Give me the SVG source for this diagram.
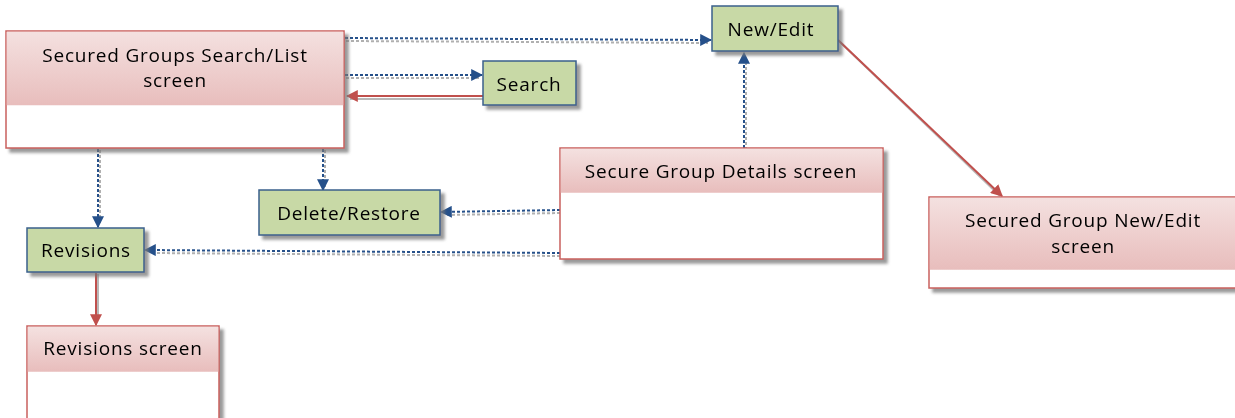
<svg xmlns="http://www.w3.org/2000/svg" width="1235" height="418" viewBox="0 0 1235 418">
<style>
.screen{fill:#fff;stroke:#c9605d;stroke-width:1.5}
.hdr{fill:url(#pink)}
.act{fill:#c8d9a6;stroke:#3a5f8c;stroke-width:1.5}
text{font-family:"Open Sans","Noto Sans","DejaVu Sans",sans-serif;font-size:19px;fill:#000;text-anchor:middle;letter-spacing:0.8px}
.dash{fill:none;stroke:#25508a;stroke-width:2;stroke-dasharray:3 2}
.dsh{fill:none;stroke:#b0b0b0;stroke-width:2;stroke-dasharray:3 2}
.red{fill:none;stroke:#c0504d;stroke-width:2}
.rsh{fill:none;stroke:#b8b8b8;stroke-width:2}
</style>
<defs>
<linearGradient id="pink" x1="0" y1="0" x2="0" y2="1">
<stop offset="0" stop-color="#f4e1e0"/>
<stop offset="1" stop-color="#e8bdbc"/>
</linearGradient>
<filter id="sh" x="-10%" y="-10%" width="130%" height="140%">
<feDropShadow dx="4" dy="4" stdDeviation="1.5" flood-color="#777" flood-opacity="0.75"/>
</filter>
<marker id="ab" viewBox="0 0 10 10" refX="9" refY="5" markerWidth="6" markerHeight="6" orient="auto" markerUnits="strokeWidth">
<path d="M0,0 L10,5 L0,10 z" fill="#25508a"/>
</marker>
<marker id="ar" viewBox="0 0 10 10" refX="9" refY="5" markerWidth="6" markerHeight="6" orient="auto" markerUnits="strokeWidth">
<path d="M0,0 L10,5 L0,10 z" fill="#c0504d"/>
</marker>
</defs>

<g id="connectors">
<g class="shadows">
<path class="dsh" d="M346,41 L708,43"/>
<path class="dsh" d="M346,78 L479,78"/>
<path class="rsh" d="M350,99 L483,99"/>
<path class="dsh" d="M746,150 L746,58"/>
<path class="dsh" d="M100,150 L100,224"/>
<path class="dsh" d="M325,150 L325,187"/>
<path class="dsh" d="M560,213 L446,215"/>
<path class="dsh" d="M560,256 L150,253"/>
<path class="rsh" d="M98,274 L98,320"/>
<path class="rsh" d="M840,42 L1000,196"/>
</g>
<path class="dash" d="M345,38 L711,40" marker-end="url(#ab)"/>
<path class="dash" d="M345,75 L482,75" marker-end="url(#ab)"/>
<path class="red" d="M483,96 L347,96" marker-end="url(#ar)"/>
<path class="dash" d="M744,148 L744,53" marker-end="url(#ab)"/>
<path class="dash" d="M98,149 L98,227" marker-end="url(#ab)"/>
<path class="dash" d="M323,149 L323,190" marker-end="url(#ab)"/>
<path class="dash" d="M560,210 L441,212" marker-end="url(#ab)"/>
<path class="dash" d="M560,253 L145,250" marker-end="url(#ab)"/>
<path class="red" d="M96,273 L96,325" marker-end="url(#ar)"/>
<path class="red" d="M838,40 L1002,196" marker-end="url(#ar)"/>
</g>

<g id="search-list" filter="url(#sh)">
<rect class="screen" x="6" y="31" width="338" height="117"/>
<rect class="hdr" x="6.75" y="31.75" width="336.5" height="73.5"/>
<text x="175" y="62">Secured Groups Search/List</text>
<text x="175" y="87">screen</text>
</g>

<g id="new-edit" filter="url(#sh)">
<rect class="act" x="712" y="6" width="126" height="45"/>
<text x="771" y="36">New/Edit</text>
</g>

<g id="search" filter="url(#sh)">
<rect class="act" x="483" y="61" width="93" height="44"/>
<text x="529" y="91">Search</text>
</g>

<g id="details" filter="url(#sh)">
<rect class="screen" x="560" y="148" width="323" height="111"/>
<rect class="hdr" x="560.75" y="148.75" width="321.5" height="44"/>
<text x="721" y="178">Secure Group Details screen</text>
</g>

<g id="delete-restore" filter="url(#sh)">
<rect class="act" x="259" y="190" width="181" height="45"/>
<text x="349" y="220">Delete/Restore</text>
</g>

<g id="revisions" filter="url(#sh)">
<rect class="act" x="27" y="228" width="117" height="44"/>
<text x="86" y="257">Revisions</text>
</g>

<g id="new-edit-screen" filter="url(#sh)">
<rect class="screen" x="929" y="197" width="320" height="91"/>
<rect class="hdr" x="929.75" y="197.75" width="318.5" height="72"/>
<text x="1083" y="227">Secured Group New/Edit</text>
<text x="1083" y="253">screen</text>
</g>

<g id="revisions-screen" filter="url(#sh)">
<rect class="screen" x="27" y="326" width="192" height="100"/>
<rect class="hdr" x="27.75" y="326.75" width="190.5" height="45"/>
<text x="123" y="355">Revisions screen</text>
</g>
</svg>
